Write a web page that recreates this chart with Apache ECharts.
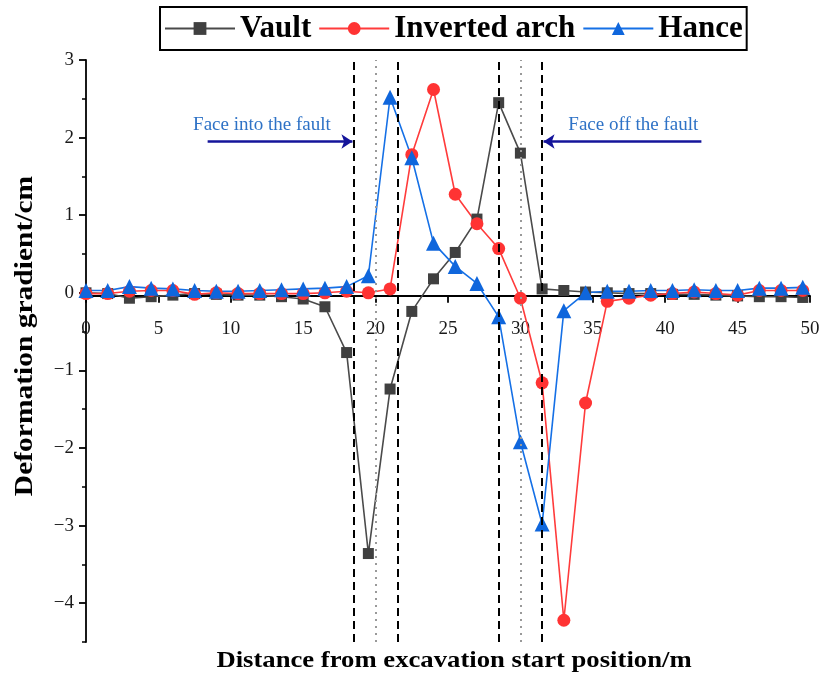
<!DOCTYPE html>
<html>
<head>
<meta charset="utf-8">
<script src="https://cdn.jsdelivr.net/npm/echarts@6/dist/echarts.min.js"></script>
<style>html,body{margin:0;padding:0;background:#fff}#c{width:826px;height:680px}</style>
</head>
<body>
<div id="c"></div>
<script>
// Distance from excavation start (m)
const distance = [0,1.5,3,4.5,6,7.5,9,10.5,12,13.5,15,16.5,18,19.5,21,22.5,24,25.5,27,28.5,30,31.5,33,34.5,36,37.5,39,40.5,42,43.5,45,46.5,48,49.5];
// Deformation gradient (cm)
const vault = [0.00,-0.01,-0.07,-0.05,-0.03,-0.01,-0.02,-0.03,-0.03,-0.05,-0.08,-0.18,-0.77,-3.36,-1.24,-0.24,0.18,0.52,0.95,2.45,1.80,0.05,0.03,0.01,0.00,-0.01,-0.01,-0.02,-0.02,-0.03,-0.04,-0.05,-0.05,-0.06];
const invertedArch = [-0.01,-0.01,0.02,0.03,0.03,-0.02,0.00,-0.01,-0.01,-0.01,-0.01,0.00,0.02,0.00,0.05,1.78,2.62,1.27,0.89,0.57,-0.07,-1.16,-4.22,-1.42,-0.11,-0.07,-0.03,-0.01,0.01,-0.01,-0.03,0.03,0.03,0.03];
const hance = [0.03,0.03,0.08,0.06,0.05,0.03,0.02,0.02,0.03,0.04,0.05,0.06,0.08,0.22,2.52,1.74,0.64,0.34,0.12,-0.31,-1.92,-2.98,-0.23,0.00,0.02,0.02,0.03,0.03,0.04,0.03,0.03,0.06,0.06,0.07];
// Fault boundaries (dashed) and fault centres (dotted)
const faultBounds = [18.5, 21.5, 28.5, 31.5];
const faultCentres = [20, 30];
// Tick values
const yMajor = [-4,-3,-2,-1,0,1,2,3];
const yMinor = [-4.5,-3.5,-2.5,-1.5,-0.5,0.5,1.5,2.5];
// Annotations
const annoInto = {text:'Face into the fault', at:[12.15, 2.16], arrow:[[8.4,1.95],[18.4,1.95]]};
const annoOff = {text:'Face off the fault', at:[37.8, 2.16], arrow:[[42.5,1.95],[31.6,1.95]]};
const xTitle = 'Distance from excavation start position/m';
const yTitle = 'Deformation gradient/cm';

const serif = '"Liberation Serif", "Times New Roman", serif';
const pair = ys => distance.map((x,i)=>[x, ys[i]]);
const fmt = v => String(v).replace('-', '\u2212');

const chart = echarts.init(document.getElementById('c'), null, {renderer:'canvas'});
const option = {
  animation: false,
  backgroundColor: '#fff',
  grid: {left: 86, right: 16, top: 60, bottom: 38, containLabel: false},
  legend: {
    left: 160, top: 7,
    padding: [6, 4, 6, 4],
    borderColor: '#000', borderWidth: 2,
    itemWidth: 70, itemHeight: 16, itemGap: 7,
    textStyle: {fontFamily: serif, fontWeight: 'bold', fontSize: 31, color: '#000'},
    data: ['Vault','Inverted arch','Hance']
  },
  xAxis: {
    type: 'value', min: 0, max: 50, interval: 5,
    axisLine: {onZero: false, lineStyle: {color: '#000', width: 1.8}},
    axisTick: {show: true, length: 7, lineStyle: {color: '#000', width: 1.8}},
    axisLabel: {fontFamily: serif, fontSize: 19, color: '#1a1a1a', margin: 24},
    splitLine: {show: false}
  },
  yAxis: [{
    type: 'value', min: -4.5, max: 3,
    axisLine: {show: true, lineStyle: {color: '#000', width: 1.8}},
    axisTick: {show: true, length: 7, lineStyle: {color: '#000', width: 1.8}, customValues: yMajor},
    axisLabel: {fontFamily: serif, fontSize: 19, color: '#1a1a1a', margin: 12, customValues: yMajor, formatter: fmt},
    splitLine: {show: false}
  },{
    type: 'value', min: -4.5, max: 3, position: 'left',
    axisLine: {show: false},
    axisTick: {show: true, length: 4, lineStyle: {color: '#000', width: 1.5}, customValues: yMinor},
    axisLabel: {show: false},
    splitLine: {show: false}
  }],
  series: [
    {
      name: 'Vault', type: 'line', data: pair(vault),
      symbol: 'rect', symbolSize: 11,
      lineStyle: {color: '#4a4a4a', width: 1.6},
      itemStyle: {color: '#404040'},
      markLine: {
        silent: true, symbol: 'none', label: {show: false},
        data: faultBounds.map(v => ({xAxis: v, lineStyle: {color: '#000', width: 2, type: [8, 5]}}))
          .concat(faultCentres.map(v => ({xAxis: v, lineStyle: {color: '#999', width: 2, type: [2, 5]}})))
      }
    },
    {
      name: 'Inverted arch', type: 'line', data: pair(invertedArch),
      symbol: 'circle', symbolSize: 13,
      lineStyle: {color: '#ff3b3b', width: 1.6},
      itemStyle: {color: '#ff3333'},
      markLine: {
        silent: true, symbol: ['none','arrow'], symbolSize: 11, label: {show: false},
        lineStyle: {color: '#14149a', width: 2.5, type: 'solid'},
        data: [
          [{coord: annoInto.arrow[0]}, {coord: annoInto.arrow[1]}],
          [{coord: annoOff.arrow[0]}, {coord: annoOff.arrow[1]}]
        ]
      },
      markPoint: {
        silent: true, symbol: 'rect', symbolSize: 1, itemStyle: {color: 'rgba(0,0,0,0)'},
        label: {show: true, position: 'inside', fontFamily: serif, fontSize: 19, color: '#2e72c6'},
        data: [
          {coord: annoInto.at, label: {formatter: annoInto.text}},
          {coord: annoOff.at, label: {formatter: annoOff.text}}
        ]
      }
    },
    {
      name: 'Hance', type: 'line', data: pair(hance),
      symbol: 'triangle', symbolSize: 15,
      lineStyle: {color: '#1570e6', width: 1.6},
      itemStyle: {color: '#0f66dc'}
    }
  ],
  graphic: [{
    type: 'text', x: 454, y: 661, scaleX: 1.16,
    style: {text: xTitle, font: 'bold 23px ' + serif, fill: '#000', align: 'center', verticalAlign: 'middle'}
  },{
    type: 'text', x: 26, y: 336, rotation: Math.PI / 2, scaleX: 1.18,
    style: {text: yTitle, font: 'bold 25px ' + serif, fill: '#000', align: 'center', verticalAlign: 'middle'}
  }]
};
chart.setOption(option);
// Place the x axis on y = 0 using the chart's own y scale
const zeroPx = chart.convertToPixel({yAxisIndex: 0}, 0);
const bottomPx = chart.convertToPixel({yAxisIndex: 0}, -4.5);
chart.setOption({xAxis: {offset: -(bottomPx - zeroPx)}});
</script>
</body>
</html>
